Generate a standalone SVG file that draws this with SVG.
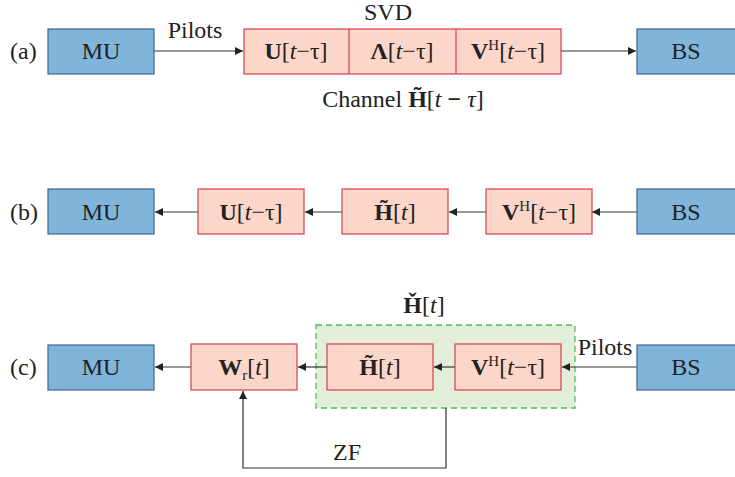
<svg xmlns="http://www.w3.org/2000/svg" width="735" height="477" viewBox="0 0 735 477" font-family="Liberation Serif, Tinos, Times New Roman, serif">
<defs>
<marker id="ah" viewBox="0 0 10 10" refX="10" refY="5" markerWidth="9" markerHeight="8" markerUnits="userSpaceOnUse" orient="auto">
<path d="M0,0 L10,5 L0,10 z" fill="#222"/>
</marker>
<style>
text{font-family:'Liberation Serif',Tinos,'Times New Roman',serif;font-size:24px;fill:#222}
.c{text-anchor:middle}
.b{font-weight:bold}
.i{font-style:italic}
.sup{font-size:15px}
.blue{fill:#7fb4db;stroke:#44648c;stroke-width:1.2}
.pink{fill:#fcd6c8;stroke:#d3404a;stroke-width:1.2}
.green{fill:#e2eeda;stroke:#4cc05a;stroke-width:1.3;stroke-dasharray:6 4}
.ln{fill:none;stroke:#333;stroke-width:1.2}
</style>
</defs>
<g id="hcheck-group"><rect class="green" x="316" y="325" width="259" height="83"/></g>
<g id="labels">
<text x="10" y="59">(a)</text>
<text x="10" y="220">(b)</text>
<text x="10" y="375">(c)</text>
<text class="c" x="195" y="38">Pilots</text>
<text class="c" x="388" y="20">SVD</text>
<text class="c" x="403" y="107">Channel <tspan class="b">H̃</tspan>[<tspan class="i">t</tspan> <tspan class="b">−</tspan> <tspan class="i">τ</tspan>]</text>
<text class="c" x="424" y="313"><tspan class="b">Ȟ</tspan>[<tspan class="i">t</tspan>]</text>
<text class="c" x="347" y="460">ZF</text>
<text class="c" x="605" y="355">Pilots</text>
</g>
<g id="connectors">
<line class="ln" x1="154" y1="51" x2="243" y2="51" marker-end="url(#ah)"/>
<line class="ln" x1="561" y1="51" x2="636" y2="51" marker-end="url(#ah)"/>
<line class="ln" x1="637" y1="212" x2="592" y2="212" marker-end="url(#ah)"/>
<line class="ln" x1="486" y1="212" x2="449" y2="212" marker-end="url(#ah)"/>
<line class="ln" x1="342" y1="212" x2="305" y2="212" marker-end="url(#ah)"/>
<line class="ln" x1="198" y1="212" x2="155" y2="212" marker-end="url(#ah)"/>
<line class="ln" x1="191" y1="367" x2="155" y2="367" marker-end="url(#ah)"/>
<line class="ln" x1="327" y1="367" x2="298" y2="367" marker-end="url(#ah)"/>
<line class="ln" x1="455" y1="367" x2="434" y2="367" marker-end="url(#ah)"/>
<line class="ln" x1="637" y1="367" x2="562" y2="367" stroke-width="2.2" marker-end="url(#ah)"/>
<polyline class="ln" points="446,408 446,468 243,468 243,391" marker-end="url(#ah)"/>
</g>
<g id="mu-a"><rect class="blue" x="48" y="29" width="106" height="45"/><text class="c" x="101" y="59">MU</text></g>
<g id="svd">
<rect class="pink" x="244" y="29" width="317" height="45"/>
<line x1="349" y1="29" x2="349" y2="74" stroke="#d3404a" stroke-width="1.2"/>
<line x1="456" y1="29" x2="456" y2="74" stroke="#d3404a" stroke-width="1.2"/>
<text class="c" x="296" y="59"><tspan class="b">U</tspan>[<tspan class="i">t</tspan>−τ]</text>
<text class="c" x="402" y="59"><tspan class="b">Λ</tspan>[<tspan class="i">t</tspan>−τ]</text>
<text class="c" x="508" y="59"><tspan class="b">V</tspan><tspan class="sup" dy="-9">H</tspan><tspan dy="9">[</tspan><tspan class="i">t</tspan>−τ]</text>
</g>
<g id="bs-a"><rect class="blue" x="637" y="29" width="110" height="45"/><text class="c" x="686" y="59">BS</text></g>
<g id="mu-b"><rect class="blue" x="48" y="189" width="106" height="45"/><text class="c" x="101" y="220">MU</text></g>
<g id="u-b"><rect class="pink" x="198" y="189" width="106" height="45"/><text class="c" x="251" y="220"><tspan class="b">U</tspan>[<tspan class="i">t</tspan>−τ]</text></g>
<g id="h-b"><rect class="pink" x="342" y="189" width="106" height="45"/><text class="c" x="395" y="220"><tspan class="b">H̃</tspan>[<tspan class="i">t</tspan>]</text></g>
<g id="v-b"><rect class="pink" x="486" y="189" width="106" height="45"/><text class="c" x="539" y="220"><tspan class="b">V</tspan><tspan class="sup" dy="-9">H</tspan><tspan dy="9">[</tspan><tspan class="i">t</tspan>−τ]</text></g>
<g id="bs-b"><rect class="blue" x="637" y="189" width="110" height="45"/><text class="c" x="686" y="220">BS</text></g>
<g id="mu-c"><rect class="blue" x="48" y="345" width="106" height="45"/><text class="c" x="101" y="375">MU</text></g>
<g id="w-c"><rect class="pink" x="191" y="344" width="106" height="46"/><text class="c" x="244" y="375"><tspan class="b">W</tspan><tspan class="sup" dy="5">r</tspan><tspan dy="-5">[</tspan><tspan class="i">t</tspan>]</text></g>
<g id="h-c"><rect class="pink" x="327" y="344" width="106" height="46"/><text class="c" x="380" y="375"><tspan class="b">H̃</tspan>[<tspan class="i">t</tspan>]</text></g>
<g id="v-c"><rect class="pink" x="455" y="344" width="106" height="46"/><text class="c" x="508" y="375"><tspan class="b">V</tspan><tspan class="sup" dy="-9">H</tspan><tspan dy="9">[</tspan><tspan class="i">t</tspan>−τ]</text></g>
<g id="bs-c"><rect class="blue" x="637" y="345" width="110" height="45"/><text class="c" x="686" y="375">BS</text></g>
</svg>
